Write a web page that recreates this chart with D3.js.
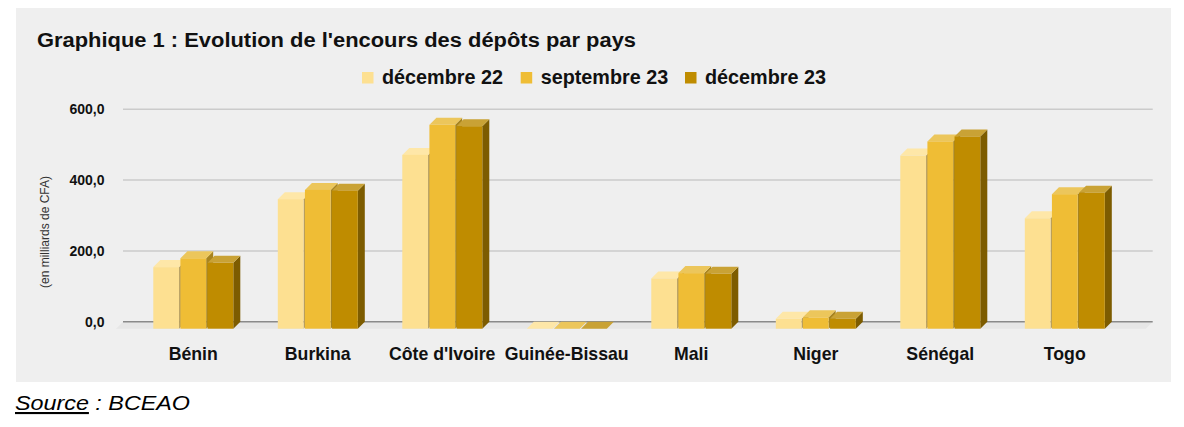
<!DOCTYPE html>
<html>
<head>
<meta charset="utf-8">
<script src="https://cdn.jsdelivr.net/npm/d3@7"></script>
<style>
  html, body { margin: 0; padding: 0; background: #ffffff; }
  svg { display: block; font-family: "Liberation Sans", Arial, sans-serif; }
</style>
</head>
<body>
<svg id="chart" width="1184" height="427"></svg>
<script>
// ---- Data ----
const countries = ["Bénin", "Burkina", "Côte d'Ivoire", "Guinée-Bissau", "Mali", "Niger", "Sénégal", "Togo"];
const seriesNames = ["décembre 22", "septembre 23", "décembre 23"];
const dec22 = [174, 366, 491, 0, 142, 28, 489, 312];
const sep23 = [199, 392, 576, 0, 157, 32, 529, 380];
const dec23 = [186, 390, 572, 0, 155, 28, 543, 384];
const yTicks = [0, 200, 400, 600];
const yTickLabels = ["0,0", "200,0", "400,0", "600,0"];

const seriesValues = [dec22, sep23, dec23];
const colors = {
  front: ["#fde091", "#efbd35", "#bf8c00"],
  top:   ["#fee7a8", "#ecc65b", "#c9a235"],
  side:  ["#b59c5c", "#a8841f", "#7d5c00"]
};

const svg = d3.select("#chart");

// Panel background
svg.append("rect").attr("x", 16).attr("y", 8).attr("width", 1155).attr("height", 374).attr("fill", "#efefef");

// 3D depth
const DX = 7, DY = 7;

// Scales (y in back-plane coords)
const y = d3.scaleLinear().domain([0, 600]).range([321.7, 109.3]);
const x0 = d3.scaleBand().domain(countries).range([131, 1127]).paddingInner(0).paddingOuter(0);
const x1 = d3.scaleBand().domain(seriesNames).range([22.3, 102.3]).paddingInner(0.05);

// Floor
const fl = 116, fr = 1145.7;
svg.append("path")
  .attr("d", `M${fl + DX},${y(0)} L${fr + DX},${y(0)} L${fr},${y(0) + DY} L${fl},${y(0) + DY} Z`)
  .attr("fill", "#e6e6e6");

// Gridlines
svg.append("g").selectAll("line").data(yTicks).join("line")
  .attr("x1", 123).attr("x2", 1152.7)
  .attr("y1", d => y(d)).attr("y2", d => y(d))
  .attr("stroke", d => d === 0 ? "#8a8a8a" : "#cbcbcb")
  .attr("stroke-width", 1.5);

// Y tick labels
svg.append("g").selectAll("text").data(yTicks).join("text")
  .attr("x", 104.5).attr("y", d => y(d) + 5)
  .attr("text-anchor", "end")
  .attr("font-size", 14).attr("font-weight", "bold").attr("fill", "#111")
  .text((d, i) => yTickLabels[i]);

// Y axis title
svg.append("text")
  .attr("transform", "translate(49,232) rotate(-90)")
  .attr("text-anchor", "middle")
  .attr("font-size", 12).attr("fill", "#333")
  .text("(en milliards de CFA)");

// Bars
const bars = svg.append("g");
countries.forEach((c, ci) => {
  seriesNames.forEach((s, si) => {
    const v = seriesValues[si][ci];
    const xl = x0(c) + x1(s);
    const w = x1.bandwidth();
    const yt = y(v) + DY;      // front top
    const yb = y(0) + DY;      // front bottom
    const g = bars.append("g");
    g.append("path")
      .attr("d", `M${xl + w},${yt} L${xl + w + DX},${yt - DY} L${xl + w + DX},${yb - DY} L${xl + w},${yb} Z`)
      .attr("fill", colors.side[si]);
    g.append("path")
      .attr("d", `M${xl},${yt} L${xl + DX},${yt - DY} L${xl + w + DX},${yt - DY} L${xl + w},${yt} Z`)
      .attr("fill", colors.top[si]);
    if (yb - yt > 0) {
      g.append("rect")
        .attr("x", xl).attr("y", yt).attr("width", w).attr("height", yb - yt)
        .attr("fill", colors.front[si]);
    }
  });
});

// X labels
svg.append("g").selectAll("text").data(countries).join("text")
  .attr("x", d => x0(d) + x0.bandwidth() / 2).attr("y", 359.5)
  .attr("text-anchor", "middle")
  .attr("font-size", 17.7).attr("font-weight", "bold").attr("fill", "#111")
  .text(d => d);

// Title
svg.append("text")
  .attr("x", 37).attr("y", 47)
  .attr("font-size", 20).attr("font-weight", "bold").attr("fill", "#111")
  .attr("textLength", 599).attr("lengthAdjust", "spacingAndGlyphs")
  .text("Graphique 1 : Evolution de l'encours des dépôts par pays");

// Legend
const legendX = [362, 520.7, 685];
const leg = svg.append("g");
seriesNames.forEach((s, i) => {
  leg.append("rect").attr("x", legendX[i]).attr("y", 72).attr("width", 11.5).attr("height", 11.5).attr("fill", colors.front[i]);
  leg.append("text").attr("x", legendX[i] + 20).attr("y", 84)
    .attr("font-size", 19.8).attr("font-weight", "bold").attr("fill", "#111")
    .text(s);
});

// Source
const src = svg.append("text").attr("x", 15).attr("y", 410)
  .attr("font-size", 21).attr("font-style", "italic").attr("fill", "#000")
  .attr("textLength", 175).attr("lengthAdjust", "spacingAndGlyphs");
src.append("tspan").attr("text-decoration", "underline").text("Source");
src.append("tspan").text(" : BCEAO");
</script>
</body>
</html>
